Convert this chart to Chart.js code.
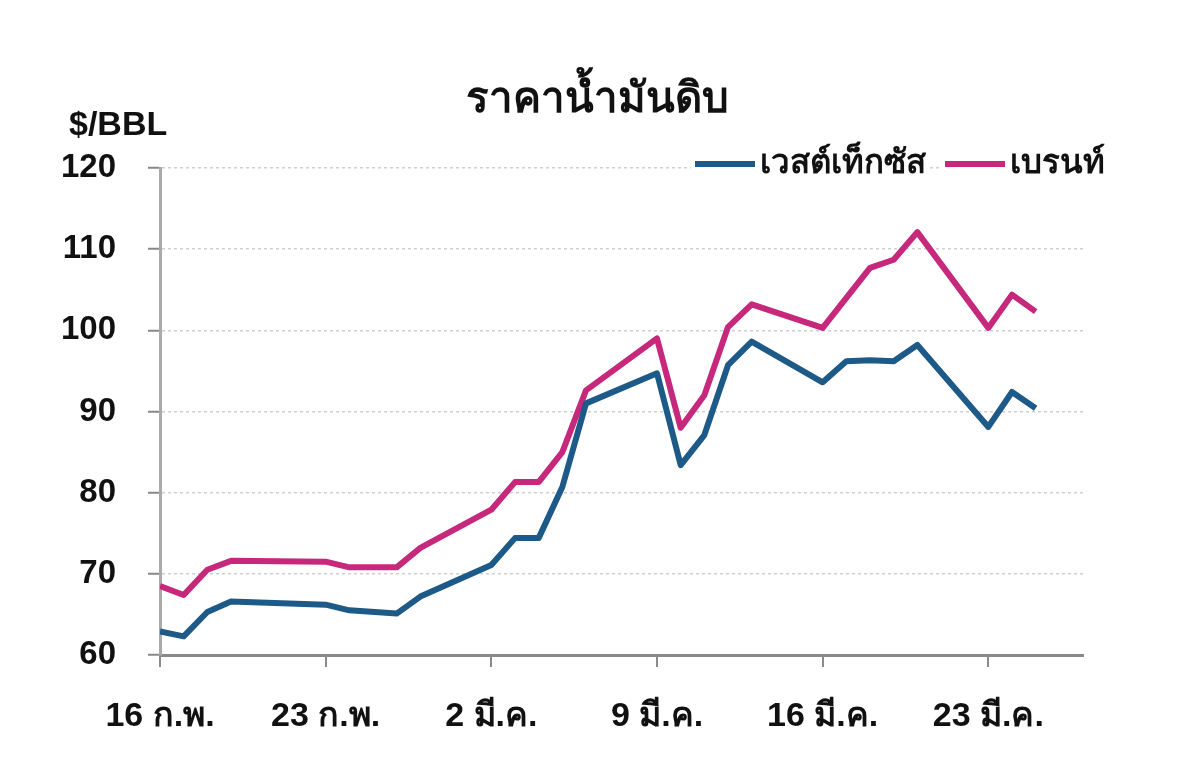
<!DOCTYPE html>
<html>
<head>
<meta charset="utf-8">
<script src="https://cdn.jsdelivr.net/npm/chart.js@4.4.1/dist/chart.umd.min.js"></script>
<style>
  body { margin: 0; background: #fff; }
  #wrap { width: 1200px; height: 772px; position: relative; }
</style>
</head>
<body>
<div id="wrap"><canvas id="oil"></canvas></div>
<script>
// days counted from 16 Feb
var days = [0, 1, 2, 3, 7, 8, 10, 11, 14, 15, 16, 17, 18, 21, 22, 23, 24, 25, 28, 29, 30, 31, 32, 35, 36, 37];
var wti = [62.9, 62.3, 65.3, 66.6, 66.2, 65.5, 65.1, 67.2, 71.1, 74.4, 74.4, 80.7, 91.0, 94.7, 83.4, 87.1, 95.7, 98.6, 93.6, 96.2, 96.3, 96.2, 98.2, 88.1, 92.4, 90.4];
var brent = [68.5, 67.4, 70.5, 71.6, 71.5, 70.8, 70.8, 73.2, 77.9, 81.3, 81.3, 85.0, 92.6, 99.0, 88.0, 92.0, 100.4, 103.2, 100.3, 104.0, 107.7, 108.7, 112.1, 100.3, 104.4, 102.3];
var tickLabels = ['16 ก.พ.', '23 ก.พ.', '2 มี.ค.', '9 มี.ค.', '16 มี.ค.', '23 มี.ค.'];
var seriesNames = ['เวสต์เท็กซัส', 'เบรนท์'];
var chartTitle = 'ราคาน้ำมันดิบ';
var unitLabel = '$/BBL';

var FONT = "'Liberation Sans', Arial, sans-serif";
var BLUE = '#1e5a87';
var PINK = '#c6287b';

function pts(vals) {
    return days.map(function(d, i){ return {x: d, y: vals[i]}; });
}

// title, unit and legend drawn by hand
var decor = {
    id: 'decor',
    afterDraw: function(chart){
        var ctx = chart.ctx;
        ctx.save();
        ctx.fillStyle = '#111';
        ctx.textBaseline = 'middle';
        ctx.font = 'bold 42px ' + FONT;
        ctx.textAlign = 'center';
        ctx.fillText(chartTitle, 597, 100);
        ctx.font = 'bold 34px ' + FONT;
        ctx.textAlign = 'left';
        ctx.fillText(unitLabel, 69, 126);

        // legend
        var items = [
            {x: 695, color: BLUE, text: seriesNames[0]},
            {x: 945, color: PINK, text: seriesNames[1]}
        ];
        ctx.font = 'bold 33px ' + FONT;
        items.forEach(function(it){
            var w = ctx.measureText(it.text).width;
            ctx.fillStyle = '#fff';
            ctx.fillRect(it.x - 4, 146, 60 + 10 + w, 36);
            ctx.strokeStyle = it.color;
            ctx.lineWidth = 6;
            ctx.beginPath();
            ctx.moveTo(it.x, 164);
            ctx.lineTo(it.x + 60, 164);
            ctx.stroke();
            ctx.fillStyle = '#111';
            ctx.fillText(it.text, it.x + 65, 164);
        });
        ctx.restore();
    }
};

var ctx = document.getElementById('oil');
var oil = new Chart(ctx, {
    type: 'line',
    data: {
        datasets: [{
            label: seriesNames[0],
            data: pts(wti),
            borderColor: BLUE,
            backgroundColor: BLUE,
            borderWidth: 6,
            pointRadius: 0,
            tension: 0,
            borderJoinStyle: 'round'
        }, {
            label: seriesNames[1],
            data: pts(brent),
            borderColor: PINK,
            backgroundColor: PINK,
            borderWidth: 6,
            pointRadius: 0,
            tension: 0,
            borderJoinStyle: 'round'
        }]
    },
    options: {
        responsive: true,
        maintainAspectRatio: false,
        animation: false,
        layout: { padding: { left: 0, right: 117, top: 168, bottom: 0 } },
        plugins: {
            legend: { display: false },
            title: { display: false },
            tooltip: { enabled: false }
        },
        scales: {
            x: {
                type: 'linear',
                min: 0,
                max: 39,
                afterFit: function(s){ s.height = 117; },
                grid: { drawOnChartArea: false, drawTicks: true, tickLength: 12, color: '#8a8a8a', lineWidth: 2 },
                border: { display: true, color: '#8a8a8a', width: 3 },
                ticks: {
                    stepSize: 7,
                    includeBounds: false,
                    autoSkip: false,
                    maxRotation: 0,
                    padding: 29,
                    color: '#111',
                    font: { family: FONT, size: 34, weight: 'bold' },
                    callback: function(v){ return tickLabels[v / 7]; }
                }
            },
            y: {
                min: 60,
                max: 120,
                afterFit: function(s){ s.width = 160; },
                grid: { color: '#cfcfcf', lineWidth: 1.5, tickLength: 12, tickColor: '#888', tickWidth: 2, tickBorderDash: [] },
                border: { display: true, color: '#aaaaaa', width: 3, dash: [3, 3] },
                ticks: {
                    stepSize: 10,
                    padding: 32,
                    color: '#111',
                    font: { family: FONT, size: 33, weight: 'bold' }
                }
            }
        }
    },
    plugins: [decor]
});
</script>
</body>
</html>
